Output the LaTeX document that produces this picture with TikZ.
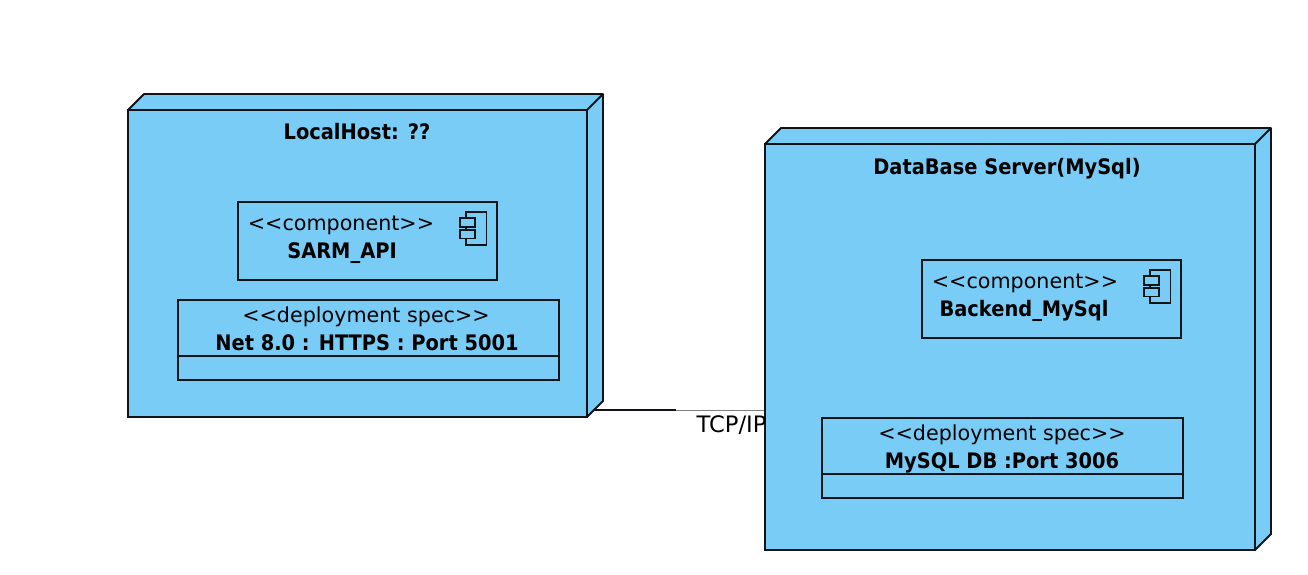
\documentclass[tikz,border=0pt]{standalone}
\usepackage{fontspec}
\setmainfont{DejaVu Sans}
\newfontfamily\stereofont{DejaVu Sans}
\newfontfamily\titlefont[FakeStretch=0.91]{DejaVu Sans}
\definecolor{nodeblue}{HTML}{78CCF5}
\definecolor{inkline}{HTML}{101418}
\tikzset{
  x=0.75pt,y=-0.75pt,
  boxshape/.style={draw=inkline,line width=1.4pt,fill=nodeblue,rectangle,inner sep=0pt,outer sep=0pt,anchor=north west},
  iconpart/.style={draw=inkline,line width=1.2pt,fill=nodeblue},
  basetext/.style={inner sep=0pt,outer sep=0pt,text=black,anchor=base},
  stereotext/.style={basetext,font=\stereofont\fontsize{15.5}{18}\selectfont},
  titletext/.style={basetext,font=\titlefont\fontsize{16}{19}\selectfont\bfseries},
  linklabel/.style={basetext,font=\fontsize{17}{20}\selectfont},
}
\newcommand{\nodecube}[5]{% name, x1, y1, x2, y2
  \fill[nodeblue,draw=inkline,line width=1.4pt,line join=round]
     (#2,#3) -- (#2+16,#3-16) -- (#4+16,#3-16) -- (#4+16,#5-16) -- (#4,#5) -- (#4,#3) -- cycle;
  \draw[inkline,line width=1.4pt] (#4,#3) -- (#4+16,#3-16);
  \node[boxshape,minimum width=#4*0.75pt-#2*0.75pt,minimum height=#5*0.75pt-#3*0.75pt] (#1) at (#2,#3) {};
}
\newcommand{\compicon}[2]{% x, y of top-left of outer rect
  \draw[iconpart] (#1,#2) rectangle (#1+20.5,#2+33);
  \draw[iconpart] (#1-6,#2+6) rectangle (#1+9,#2+15);
  \draw[iconpart] (#1-6,#2+18) rectangle (#1+9,#2+26.5);
}
\begin{document}
\begin{tikzpicture}
\useasboundingbox (0,0) rectangle (1308,574);
% connector
\coordinate (bend) at (676,410);
\coordinate (startc) at (592,410);
\coordinate (endc) at (766,410);
\draw[inkline,line width=1.4pt] (startc) -- (bend);
\draw[gray,line width=0.7pt] (bend) -- (endc);
% LocalHost
\nodecube{local}{128}{110}{587}{417}
\node[titletext] (localtitle) at (357,140) {LocalHost: ??};
\node[boxshape,minimum width=194pt,minimum height=58.5pt] (sarm) at (238,202) {};
\node[stereotext] (sarmst) at (341,230) {<{}<component>{}>};
\node[titletext] (sarmname) at (342,258) {SARM\_API};
\compicon{466}{212}
\node[boxshape,minimum width=285.5pt,minimum height=60pt] (spec1) at (178,300) {};
\draw[inkline,line width=1.4pt] (178,356) -- (559,356);
\node[stereotext] (spec1st) at (366,322) {<{}<deployment spec>{}>};
\node[titletext] (spec1name) at (367,350) {Net 8.0 : HTTPS : Port 5001};
% Database
\nodecube{db}{765}{144}{1255}{550}
\node[titletext] (dbtitle) at (1007,174) {DataBase Server(MySql)};
\node[boxshape,minimum width=194pt,minimum height=58.5pt] (backend) at (922,260) {};
\node[stereotext] (backendst) at (1025,288) {<{}<component>{}>};
\node[titletext] (backendname) at (1024,316) {Backend\_MySql};
\compicon{1150}{270}
\node[boxshape,minimum width=270.5pt,minimum height=60pt] (spec2) at (822,418) {};
\draw[inkline,line width=1.4pt] (822,474) -- (1183,474);
\node[stereotext] (spec2st) at (1002,440) {<{}<deployment spec>{}>};
\node[titletext] (spec2name) at (1002,468) {MySQL DB :Port 3006};
% label
\node[linklabel] (tcp) at (731.5,432) {TCP/IP};
\end{tikzpicture}
\end{document}
